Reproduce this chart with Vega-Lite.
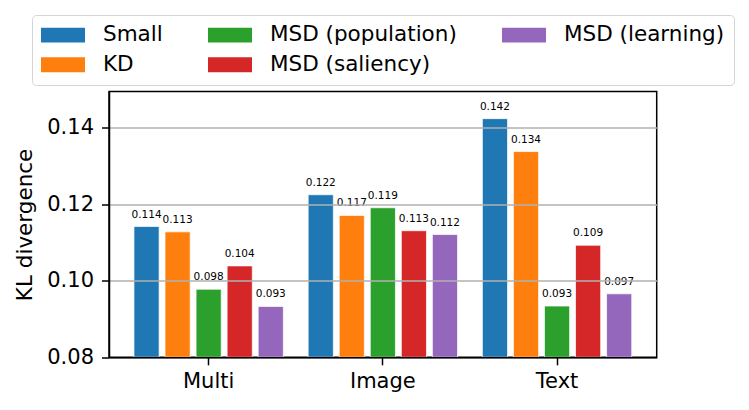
{
  "$schema": "https://vega.github.io/schema/vega-lite/v6.json",
  "width": 547.7,
  "height": 265.8,
  "autosize": {"type": "none"},
  "padding": {"left": 109, "top": 91.5, "right": 92.3, "bottom": 52.7},
  "config": {
    "font": "DejaVu Sans",
    "view": {"stroke": "black", "strokeWidth": 1.5},
    "axis": {
      "labelFont": "DejaVu Sans",
      "titleFont": "DejaVu Sans",
      "labelColor": "black",
      "titleColor": "black",
      "domainColor": "black",
      "tickColor": "black",
      "domainWidth": 1.5,
      "tickWidth": 1.5,
      "tickSize": 7.5,
      "labelFontSize": 21,
      "titleFontSize": 21.5,
      "titleFontWeight": "normal"
    }
  },
  "data": {
    "values": [
      {"group": "Multi", "method": "Small", "value": 0.1142},
      {"group": "Multi", "method": "KD", "value": 0.1128},
      {"group": "Multi", "method": "MSD (population)", "value": 0.0978},
      {"group": "Multi", "method": "MSD (saliency)", "value": 0.1039},
      {"group": "Multi", "method": "MSD (learning)", "value": 0.0933},
      {"group": "Image", "method": "Small", "value": 0.1225},
      {"group": "Image", "method": "KD", "value": 0.1171},
      {"group": "Image", "method": "MSD (population)", "value": 0.1191},
      {"group": "Image", "method": "MSD (saliency)", "value": 0.1131},
      {"group": "Image", "method": "MSD (learning)", "value": 0.1121},
      {"group": "Text", "method": "Small", "value": 0.1424},
      {"group": "Text", "method": "KD", "value": 0.1338},
      {"group": "Text", "method": "MSD (population)", "value": 0.0934},
      {"group": "Text", "method": "MSD (saliency)", "value": 0.1093},
      {"group": "Text", "method": "MSD (learning)", "value": 0.0966}
    ]
  },
  "encoding": {
    "x": {
      "field": "group",
      "type": "nominal",
      "sort": ["Multi", "Image", "Text"],
      "scale": {"paddingInner": 0, "paddingOuter": 0.072},
      "axis": {"title": null, "labelAngle": 0, "labelPadding": 6, "zindex": 1, "grid": false, "labelFontSize": 21}
    },
    "xOffset": {
      "field": "method",
      "type": "nominal",
      "sort": ["Small", "KD", "MSD (population)", "MSD (saliency)", "MSD (learning)"],
      "scale": {"paddingInner": 0.19, "paddingOuter": 0.4}
    },
    "y": {
      "field": "value",
      "type": "quantitative",
      "scale": {"domain": [0.08, 0.1495], "nice": false, "zero": false},
      "axis": {
        "title": "KL divergence",
        "values": [0.08, 0.1, 0.12, 0.14],
        "format": ".2f",
        "grid": true,
        "gridColor": "#b0b0b0",
        "gridWidth": 1.5,
        "zindex": 1,
        "labelPadding": 8,
        "titlePadding": 10
      }
    }
  },
  "layer": [
    {
      "mark": {"type": "bar", "stroke": "white", "strokeWidth": 1, "strokeOpacity": 0.7},
      "encoding": {
        "y2": {"datum": 0.08},
        "color": {
          "field": "method",
          "type": "nominal",
          "scale": {
            "domain": ["Small", "KD", "MSD (population)", "MSD (saliency)", "MSD (learning)"],
            "range": ["#1f77b4", "#ff7f0e", "#2ca02c", "#d62728", "#9467bd"]
          },
          "legend": {
            "title": null,
            "orient": "none",
            "legendX": -77,
            "legendY": -76.5,
            "columns": 3,
            "symbolType": "M-1.9545,-1.36L6.0455,-1.36L6.0455,1.36L-1.9545,1.36Z",
            "symbolSize": 121,
            "symbolStrokeWidth": 0,
            "symbolOpacity": 1,
            "labelFontSize": 21.5,
            "labelFont": "DejaVu Sans",
            "labelColor": "black",
            "labelOffset": 40.5,
            "labelLimit": 400,
            "columnPadding": 45,
            "rowPadding": 7,
            "padding": 9,
            "strokeColor": "#d5d5d5",
            "cornerRadius": 4,
            "fillColor": "white"
          }
        }
      }
    },
    {
      "mark": {"type": "text", "dy": -9, "baseline": "alphabetic", "fontSize": 10.5, "color": "black"},
      "encoding": {
        "text": {"field": "value", "type": "quantitative", "format": ".3f"}
      }
    }
  ]
}
